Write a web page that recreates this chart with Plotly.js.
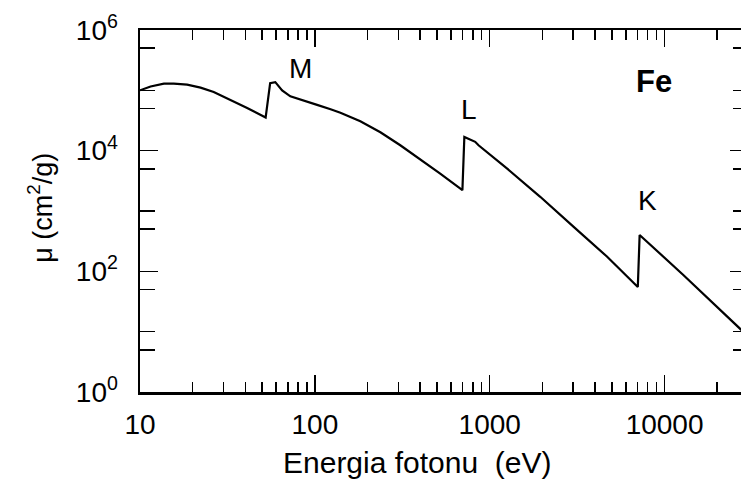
<!DOCTYPE html>
<html>
<head>
<meta charset="utf-8">
<script src="https://cdn.plot.ly/plotly-3.0.1.min.js"></script>
<style>
html,body{margin:0;padding:0;background:#fff;overflow:hidden;width:741px;height:479px;}
#chart{width:760px;height:479px;}
</style>
</head>
<body>
<div id="chart"></div>
<script>
// Photon energy (eV) and mass attenuation coefficient mu (cm^2/g) for Fe
const energy = [10, 11.5, 13.7, 15.6, 18.6, 22.2, 26.4, 32.9, 41, 52.3, 55.5, 59.4, 65, 72.4, 86.1, 103, 123, 140, 182, 237, 308, 401, 521, 698, 716, 826, 863, 1254, 1945, 3010, 4680, 7030, 7200, 12800, 30000];
const mu     = [1.0e5, 1.16e5, 1.29e5, 1.29e5, 1.24e5, 1.11e5, 9.4e4, 7.0e4, 5.1e4, 3.54e4, 1.32e5, 1.37e5, 1.0e5, 7.96e4, 6.7e4, 5.75e4, 4.85e4, 4.25e4, 3.07e4, 2.02e4, 1.23e4, 7240, 4170, 2220, 1.69e4, 1.4e4, 1.23e4, 5080, 1720, 551, 176, 55, 401, 87, 8.4];

const xMajor = [10, 100, 1000, 10000];
const xMajorText = ['10', '100', '1000', '10000'];
const xMinor = [20,30,40,50,60,70,80,90,200,300,400,500,600,700,800,900,2000,3000,4000,5000,6000,7000,8000,9000,20000,30000];
const yMajor = [1, 100, 1e4, 1e6];
const yMajorText = ['10<sup>0</sup>', '10<sup>2</sup>', '10<sup>4</sup>', '10<sup>6</sup>'];
const yMinor = [5, 10, 50, 500, 1000, 5000, 5e4, 1e5, 5e5];

const edgeLabels = ['M', 'L', 'K'];
const edgeLabelX = [82.7, 764, 7940];
const edgeLabelY = [2.3e5, 4.85e4, 1520];
const elementName = 'Fe';

const FONT = 'Liberation Sans, Arial, Helvetica, sans-serif';

const trace = {
  x: energy, y: mu, type: 'scatter', mode: 'lines',
  line: {color: '#000', width: 2.2, shape: 'linear'},
  hoverinfo: 'skip'
};

const annotations = edgeLabels.map((t, i) => ({
  x: Math.log10(edgeLabelX[i]), y: Math.log10(edgeLabelY[i]),
  xref: 'x', yref: 'y', text: t, showarrow: false,
  font: {family: FONT, size: 28, color: '#000'}
}));
annotations.push({
  x: Math.log10(8700), y: Math.log10(1.41e5), xref: 'x', yref: 'y',
  text: '<b>' + elementName + '</b>', showarrow: false,
  font: {family: FONT, size: 31, color: '#000'}
});
annotations.push({
  x: 0.457, y: -0.195, xref: 'paper', yref: 'paper',
  text: 'Energia fotonu  (eV)', showarrow: false,
  xanchor: 'center', yanchor: 'middle',
  font: {family: FONT, size: 30, color: '#000'}
});
annotations.push({
  x: -0.1645, y: 0.509, xref: 'paper', yref: 'paper',
  text: 'μ (cm<sup>2</sup>/g)', showarrow: false, textangle: -90,
  xanchor: 'center', yanchor: 'middle',
  font: {family: FONT, size: 27, color: '#000'}
});

const layout = {
  width: 760, height: 479,
  margin: {l: 140, r: 12, t: 30, b: 87},
  paper_bgcolor: '#fff', plot_bgcolor: '#fff',
  showlegend: false,
  xaxis: {
    type: 'log', range: [1, Math.log10(30000)],
    tickmode: 'array', tickvals: xMajor, ticktext: xMajorText,
    ticks: 'inside', ticklen: 17, tickwidth: 1.5, tickcolor: '#000',
    showline: true, linecolor: '#000', linewidth: 2.5, mirror: 'ticks',
    showgrid: false, zeroline: false,
    tickfont: {family: FONT, size: 28, color: '#000'},
    ticklabelstandoff: 6,
    minor: {tickmode: 'array', tickvals: xMinor, ticks: 'inside', ticklen: 10, tickwidth: 1.5, tickcolor: '#000', showgrid: false}
  },
  yaxis: {
    type: 'log', range: [0, 6],
    tickmode: 'array', tickvals: yMajor, ticktext: yMajorText,
    ticks: 'inside', ticklen: 18, tickwidth: 1.5, tickcolor: '#000',
    showline: true, linecolor: '#000', linewidth: 2.5, mirror: 'ticks',
    showgrid: false, zeroline: false,
    tickfont: {family: FONT, size: 28, color: '#000'},
    ticklabelstandoff: 14,
    minor: {tickmode: 'array', tickvals: yMinor, ticks: 'inside', ticklen: 15, tickwidth: 1.5, tickcolor: '#000', showgrid: false}
  },
  annotations: annotations
};

Plotly.newPlot('chart', [trace], layout, {staticPlot: true, displayModeBar: false});
</script>
</body>
</html>
